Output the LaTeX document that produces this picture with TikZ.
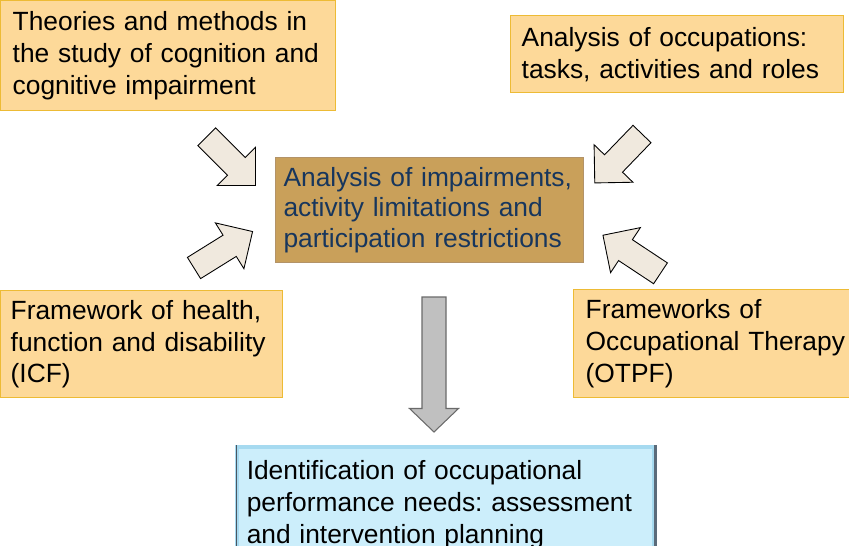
\documentclass[tikz,border=0pt]{standalone}
\usepackage{fontspec}
\setmainfont{Liberation Sans}
\frenchspacing
\definecolor{srcfill}{HTML}{FDD999}
\definecolor{srcline}{HTML}{EDBB35}
\definecolor{midfill}{HTML}{C9A05A}
\definecolor{midline}{HTML}{B39368}
\definecolor{midtext}{HTML}{17365D}
\definecolor{outfill}{HTML}{CCEEFB}
\definecolor{outframe}{HTML}{A6DAF0}
\definecolor{outedge}{HTML}{5B6B7A}
\definecolor{arrowfill}{HTML}{F0E9DE}
\definecolor{downfill}{HTML}{C0C0C0}
\definecolor{downline}{HTML}{6A6A6A}
\tikzstyle{source} = [rectangle, draw=srcline, fill=srcfill, line width=0.8pt, anchor=north west, align=left, font=\fontsize{15}{18.2}\selectfont]
\tikzstyle{centre} = [rectangle, draw=midline, fill=midfill, text=midtext, line width=0.6pt, anchor=north west, align=left, font=\fontsize{15}{17.4}\selectfont]
\tikzstyle{result} = [rectangle, draw=outframe, fill=outfill, line width=2pt, anchor=north west, align=left, font=\fontsize{15}{18.2}\selectfont]
\tikzstyle{inarrow} = [draw=black, fill=arrowfill, line width=0.5pt]
\tikzstyle{outarrow} = [draw=downline, fill=downfill, line width=0.6pt]
% block arrow along +x: length, shaft half width, head half width, head length
\tikzset{
  pics/blockarrow/.style n args={4}{code={
    \path[pic actions] (0,-#2) -- ({#1-#4},-#2) -- ({#1-#4},-#3) -- (#1,0)
      -- ({#1-#4},#3) -- ({#1-#4},#2) -- (0,#2) -- cycle;
  }}
}

\begin{document}
\begin{tikzpicture}[x=0.02cm, y=-0.02cm]

\useasboundingbox (0,0) rectangle (849,545);
\clip (0,0) rectangle (849,545);

% the four sources
\node (theories) [source, minimum width=6.7cm, minimum height=2.2cm, inner xsep=0.24cm, text width=6.22cm] at (0,0)
  {Theories and methods in\\the study of cognition and\\cognitive impairment};
\node (occup) [source, minimum width=6.66cm, minimum height=1.54cm, inner xsep=0.22cm, text width=6.22cm] at (510,15)
  {Analysis of occupations:\\tasks, activities and roles};
\node (icf) [source, minimum width=5.64cm, minimum height=2.14cm, inner xsep=0.2cm, text width=5.24cm] at (0,290)
  {Framework of health,\\function and disability\\(ICF)};
\node (otpf) [source, minimum width=5.8cm, minimum height=2.16cm, inner xsep=0.24cm, text width=5.32cm] at (573,289)
  {Frameworks of\\Occupational Therapy\\(OTPF)};

% centre and outcome
\node (impair) [centre, minimum width=6.16cm, minimum height=2.1cm, inner xsep=0.16cm, text width=5.84cm] at (275,157)
  {Analysis of impairments,\\activity limitations and\\participation restrictions};
\node (needs) [result, minimum width=8.34cm, minimum height=2.3cm, inner xsep=0.2cm, text width=7.94cm] at (235,445)
  {Identification of occupational\\performance needs: assessment\\and intervention planning};
\draw [outedge, line width=1.6pt] (needs.north east) -- (needs.south east);
\draw [outedge!80!black, line width=0.6pt] ([xshift=1pt]needs.north west) -- ([xshift=1pt]needs.south west);

% arrows into the centre
\pic [inarrow, rotate=-45] at (206.7,136.7) {blockarrow={69}{12.5}{27}{27}};
\pic [inarrow, rotate=31.9] at (194,268) {blockarrow={69}{12.5}{27}{27}};
\pic [inarrow, rotate=-134] at (642,134) {blockarrow={68}{12.5}{27}{27}};
\pic [inarrow, rotate=146.5] at (660.5,273.3) {blockarrow={69}{12.5}{27}{27}};

% arrow down to the outcome
\pic [outarrow, rotate=-90] at (434,297) {blockarrow={135}{12}{24.5}{23.5}};

\end{tikzpicture}
\end{document}
